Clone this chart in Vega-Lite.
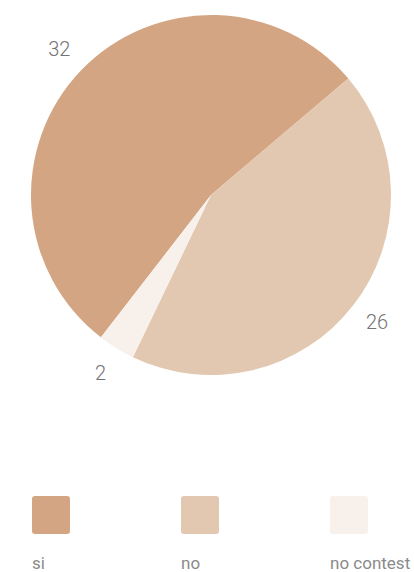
{
  "$schema": "https://vega.github.io/schema/vega-lite/v6.json",
  "padding": {"left": 8, "top": 0, "right": 0, "bottom": 0},
  "autosize": {"type": "pad"},
  "background": "white",
  "bounds": "flush",
  "spacing": 90,
  "config": {"view": {"stroke": null}},
  "data": {"values": [
    {"answer": "si", "count": 32, "idx": 1},
    {"answer": "no", "count": 26, "idx": 2},
    {"answer": "no contest", "count": 2, "idx": 3}
  ]},
  "vconcat": [
    {
      "width": 406,
      "height": 390,
      "encoding": {
        "theta": {"field": "count", "type": "quantitative", "stack": true, "scale": {"range": [3.80, 10.083]}},
        "order": {"field": "idx", "type": "ordinal"}
      },
      "layer": [
        {
          "mark": {"type": "arc", "outerRadius": 180},
          "encoding": {
            "color": {"field": "answer", "type": "nominal", "scale": {"domain": ["si", "no", "no contest"], "range": ["#d3a583", "#e3c8b1", "#f8f0eb"]}, "legend": null}
          }
        },
        {
          "mark": {"type": "text", "radius": 210, "font": "Roboto", "fontSize": 20, "fontWeight": 300, "color": "#737373"},
          "encoding": {"text": {"field": "count", "type": "quantitative"}}
        }
      ]
    },
    {
      "width": 384,
      "height": 70,
      "encoding": {
        "x": {"field": "answer", "type": "nominal", "sort": ["si", "no", "no contest"], "scale": {"type": "point", "padding": 0.2886}, "axis": null}
      },
      "layer": [
        {
          "mark": {"type": "point", "shape": "M-0.84,-1H0.84Q1,-1,1,-0.84V0.84Q1,1,0.84,1H-0.84Q-1,1,-1,0.84V-0.84Q-1,-1,-0.84,-1Z", "filled": true, "size": 1444, "opacity": 1},
          "encoding": {
            "color": {"field": "answer", "type": "nominal", "scale": {"domain": ["si", "no", "no contest"], "range": ["#d3a583", "#e3c8b1", "#f8f0eb"]}, "legend": null}
          }
        },
        {
          "mark": {"type": "text", "align": "left", "baseline": "alphabetic", "dx": -19, "dy": 54, "font": "Roboto", "fontSize": 17, "letterSpacing": 0.4, "color": "#8a8a8a"},
          "encoding": {"text": {"field": "answer", "type": "nominal"}}
        }
      ]
    }
  ]
}
